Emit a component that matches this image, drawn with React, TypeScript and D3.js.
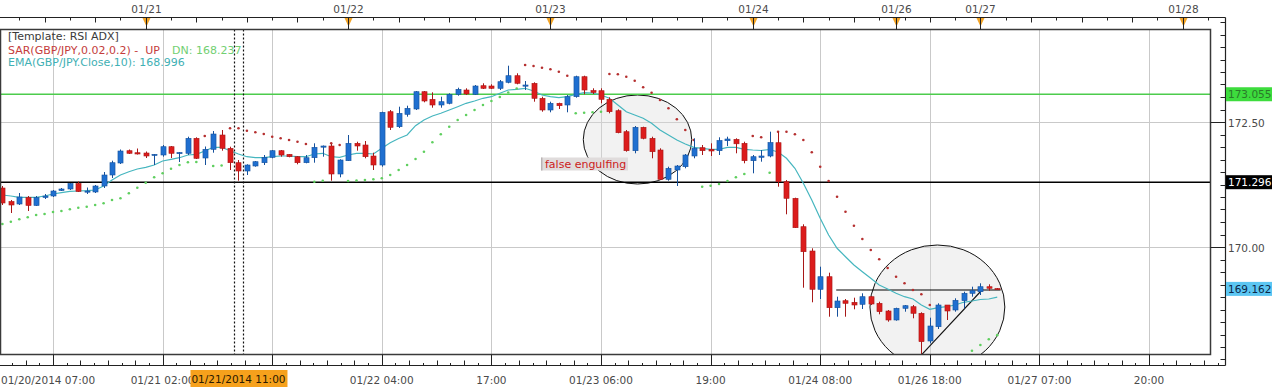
import React from 'react';
import * as d3 from 'd3';

// ---------- data ----------
const open = [171.18,170.91,170.86,170.99,170.83,170.99,171.02,171.13,171.16,171.27,171.10,171.10,171.22,171.44,171.68,171.926,171.886,171.88,171.834,171.84,172.006,171.87,171.874,172.174,171.78,171.954,172.24,171.974,171.686,171.52,171.62,171.686,171.794,171.926,171.854,171.806,171.686,171.786,172.0,172.02,171.46,171.726,172.074,172.04,171.82,171.64,172.706,172.406,172.654,172.76,173.106,172.954,172.84,172.874,173.054,173.14,173.054,173.226,173.22,173.174,173.294,173.426,173.22,173.274,172.974,172.74,172.874,172.84,173.006,173.406,173.13,173.126,172.954,172.726,172.306,171.926,172.394,172.174,171.94,171.354,171.54,171.606,171.82,171.986,171.954,171.926,172.126,172.154,172.074,171.726,171.794,171.82,172.086,171.306,170.974,170.406,169.92,169.154,169.406,168.786,168.926,168.894,168.854,169.006,168.874,168.72,168.54,168.774,168.806,168.674,168.12,168.406,168.84,168.74,168.926,169.074,169.106,169.206,169.17];
const high = [171.22,170.94,171.08,171.02,171.02,171.06,171.14,171.18,171.28,171.31,171.19,171.24,171.50,171.726,171.95,171.95,171.97,171.91,171.86,172.04,172.02,171.90,172.206,172.194,172.01,172.32,172.34,172.006,171.74,171.654,171.72,171.84,171.94,171.94,171.86,171.82,171.84,172.074,172.03,172.06,171.754,172.24,172.106,172.12,171.886,172.706,172.74,172.806,172.826,173.12,173.12,173.094,173.006,173.074,173.186,173.174,173.24,173.274,173.254,173.34,173.626,173.474,173.32,173.294,173.006,172.906,172.886,173.04,173.426,173.426,173.174,173.174,172.994,172.754,172.34,172.42,172.406,172.206,171.974,171.606,171.64,171.86,172.174,172.04,172.074,172.194,172.206,172.174,172.106,171.84,171.94,172.306,172.306,171.34,170.986,170.454,169.974,169.606,169.486,169.006,168.96,168.986,169.074,169.02,168.906,168.74,168.786,168.84,168.84,168.694,168.586,168.874,168.84,168.974,169.106,169.206,169.274,169.254,169.18];
const low = [170.84,170.68,170.84,170.72,170.82,170.96,171.0,171.12,171.14,171.10,171.06,171.08,171.18,171.38,171.66,171.86,171.85,171.78,171.64,171.806,171.78,171.70,171.84,171.76,171.64,171.886,171.926,171.54,171.326,171.44,171.606,171.64,171.774,171.806,171.794,171.654,171.674,171.686,171.806,171.326,171.394,171.72,171.926,171.774,171.54,171.606,172.34,172.38,172.606,172.74,172.894,172.786,172.786,172.854,173.026,173.04,173.04,173.16,173.16,173.14,173.274,173.254,173.14,172.906,172.706,172.694,172.76,172.694,172.986,173.054,173.06,172.874,172.674,172.274,171.906,171.874,172.154,171.774,171.34,171.326,171.22,171.574,171.774,171.84,171.82,171.84,172.02,171.874,171.674,171.474,171.706,171.794,171.206,170.654,170.38,169.186,168.894,168.96,168.606,168.606,168.606,168.754,168.76,168.84,168.654,168.506,168.526,168.706,168.574,167.84,168.074,168.36,168.54,168.706,168.774,169.006,169.04,169.126,169.15];
const close = [170.88,170.84,171.0,170.83,170.99,171.02,171.12,171.16,171.27,171.11,171.12,171.22,171.44,171.686,171.92,171.874,171.86,171.82,171.854,172.006,171.874,171.89,172.174,171.774,171.954,172.26,171.974,171.686,171.52,171.64,171.706,171.794,171.926,171.84,171.806,171.686,171.786,171.994,172.02,171.46,171.74,172.074,172.02,171.806,171.64,172.694,172.394,172.674,172.774,173.106,172.92,172.84,172.906,173.054,173.154,173.06,173.22,173.174,173.174,173.306,173.426,173.274,173.24,172.974,172.74,172.874,172.826,173.006,173.406,173.14,173.09,172.954,172.706,172.286,171.926,172.394,172.174,171.906,171.354,171.574,171.62,171.84,171.974,171.926,171.92,172.13,172.16,172.064,171.726,171.806,171.82,172.09,171.306,170.974,170.386,169.906,169.154,169.406,168.786,168.92,168.874,168.84,169.006,168.86,168.706,168.54,168.774,168.826,168.674,168.106,168.42,168.84,168.72,168.934,169.074,169.126,169.206,169.174,169.162];
const ema = [171.04,171.02,170.994,170.994,170.994,171.02,171.06,171.086,171.114,171.12,171.126,171.14,171.22,171.34,171.44,171.506,171.56,171.594,171.64,171.72,171.754,171.786,171.84,171.854,171.92,171.994,171.994,171.926,171.86,171.806,171.786,171.786,171.806,171.82,171.82,171.806,171.806,171.86,171.874,171.806,171.794,171.84,171.874,171.874,171.86,171.974,172.086,172.17,172.24,172.426,172.54,172.62,172.674,172.74,172.806,172.874,172.92,172.974,173.006,173.074,173.14,173.154,173.174,173.12,173.04,173.006,172.986,173.006,173.054,173.086,173.08,173.04,172.974,172.84,172.706,172.64,172.574,172.474,172.34,172.24,172.14,172.06,171.994,171.974,171.954,171.954,171.994,171.994,171.954,171.94,171.93,171.95,171.90,171.774,171.574,171.274,170.94,170.574,170.24,169.974,169.806,169.64,169.506,169.374,169.24,169.16,169.074,169.006,168.96,168.84,168.754,168.786,168.806,168.84,168.894,168.92,168.95,168.96,168.996];
const sar: (number | null)[] = [170.46,170.506,170.554,170.594,170.64,170.66,170.70,170.72,170.754,170.786,170.806,170.84,170.874,170.94,170.974,171.074,171.186,171.286,171.394,171.474,171.566,171.64,171.694,171.70,172.22,171.62,171.63,172.374,172.374,172.326,172.294,172.26,172.206,172.174,172.14,172.106,172.06,171.306,171.326,172.074,172.04,171.32,171.33,171.34,171.354,171.374,171.44,171.54,171.64,171.76,171.906,172.094,172.254,172.406,172.54,172.64,172.74,172.84,172.92,173.0,173.09,173.17,173.64,173.62,173.586,173.554,173.506,173.426,172.674,172.686,172.694,172.706,173.46,173.454,173.406,173.326,173.194,173.086,172.94,172.774,172.554,172.34,172.14,171.206,171.226,171.26,171.32,171.394,171.46,172.22,172.194,171.486,172.306,172.306,172.254,172.14,171.894,171.606,171.32,171.006,170.706,170.426,170.16,169.94,169.754,169.58,169.406,169.274,169.14,169.054,168.84,null,null,null,null,167.926,168.04,168.154,168.237];

const dayTickBars = [17, 41, 65, 89, 106, 116, 140];
const dayTickLabels = ['01/21', '01/22', '01/23', '01/24', '01/26', '01/27', '01/28'];
const timeTickBars = [6, 19, 32, 45, 58, 71, 84, 97, 110, 123, 136];
const timeTickLabels = ['', '01/21 02:00', '', '01/22 04:00', '17:00', '01/23 06:00', '19:00', '01/24 08:00', '01/26 18:00', '01/27 07:00', '20:00'];
const startLabel = '01/20/2014 07:00';
const cursorBar = 28;
const cursorLabel = '01/21/2014 11:00';
const priceLabels = [170.0, 172.5];
const levelGreen = 173.055;
const levelBlack = 171.296;
const lastPrice = 169.162;
const legendTemplate = '[Template: RSI ADX]';
const legendSar = 'SAR(GBP/JPY,0.02,0.2) -  UP';
const legendSarDn = 'DN: 168.237';
const legendEma = 'EMA(GBP/JPY.Close,10): 168.996';
const noteText = 'false engulfing';
const noteBar = 64;
const notePrice = 171.66;
const ellipseBars = [75.33, 110.9];
const ellipsePrices = [172.15, 168.8];
const ellipseHalfBars = [6.43, 8.0];
const ellipseHalfPrices = [0.89, 1.24];
const hLineBars = [98.9, 118.4];
const hLinePrice = 169.14;
const trendBars = [109, 116.3];
const trendPrices = [167.84, 169.16];

// ---------- layout ----------
const W = 1280, H = 391;
const PL = 0.5, PR = 1210.5, PT = 29.5, PB = 354.5;
const AX = 1225.5, TOPY = 17.5, BOTY = 365.5;
const x = d3.scaleLinear().domain([6, 136]).range([53, 1149]);
const y = d3.scaleLinear().domain([170, 172.5]).range([247, 122]);
const FONT = "'DejaVu Sans', Verdana, sans-serif";

const RED = '#dc1c1c', RED_D = '#a81818';
const BLUE = '#1f6fd0', BLUE_D = '#16519c';

function barHour(i: number) {
  return i < 106 ? (((7 + i) % 24) + 24) % 24 : (14 + i - 106) % 24;
}

export default function App() {
  const n = close.length;
  const idx = d3.range(n);
  const emaLine = d3.line<number>().x((i) => x(i)).y((i) => y(ema[i]))(idx) || '';
  const bw = (x(1) - x(0)) * 0.6;

  const topTicks = d3.range(-1, 147).filter((i) => barHour(i) % 3 === 0 && !dayTickBars.includes(i) && x(i) > 1 && x(i) < AX);
  const minorStep = (x(19) - x(6)) / 8;
  const bottomMinor: { px: number; k: number }[] = [];
  timeTickBars.forEach((b) => {
    for (let k = -7; k <= 7; k++) {
      if (k === 0) continue;
      const px = x(b) + k * minorStep;
      if (k < 0 && b !== timeTickBars[0]) continue;
      if (px > 1 && px < AX - 1) bottomMinor.push({ px, k: Math.abs(k) });
    }
  });
  const priceMinor = d3.range(167.75, 174.51, 0.25).filter((p) => y(p) > TOPY + 1 && y(p) < BOTY - 1);

  const boxes = [
    { p: levelGreen, bg: '#3ddc3d', fg: '#2a7a2a' },
    { p: levelBlack, bg: '#000000', fg: '#ffffff' },
    { p: lastPrice, bg: '#5cc6f2', fg: '#0b2747' },
  ];

  const noteX = x(noteBar) - 1;
  const noteY = y(notePrice);

  return (
    <div style={{ position: 'absolute', left: 0, top: 0, width: W, height: H, background: '#fff' }}>
      <svg width={W} height={H} style={{ display: 'block' }} fontFamily={FONT}>
        <defs>
          <clipPath id="plot">
            <rect x={PL + 0.5} y={PT + 0.5} width={PR - PL - 1} height={PB - PT - 1} />
          </clipPath>
        </defs>
        <rect x={0} y={0} width={W} height={H} fill="#fff" />

        {/* grid */}
        <g stroke="#c9c9c9" strokeWidth={1}>
          {priceLabels.map((p) => (
            <line key={'hg' + p} x1={PL} x2={PR} y1={Math.round(y(p)) + 0.5} y2={Math.round(y(p)) + 0.5} />
          ))}
          {timeTickBars.map((b) => (
            <line key={'vg' + b} x1={Math.round(x(b)) + 0.5} x2={Math.round(x(b)) + 0.5} y1={PT} y2={PB} />
          ))}
        </g>

        <g clipPath="url(#plot)">
          {/* ellipses */}
          {ellipseBars.map((b, k) => (
            <ellipse
              key={'el' + k}
              cx={x(b)}
              cy={y(ellipsePrices[k])}
              rx={x(b + ellipseHalfBars[k]) - x(b)}
              ry={y(ellipsePrices[k] - ellipseHalfPrices[k]) - y(ellipsePrices[k])}
              fill="#d9d9d9"
              fillOpacity={0.35}
              stroke="#111"
              strokeWidth={1}
            />
          ))}

          {/* level lines */}
          <line x1={PL} x2={PR} y1={y(levelGreen)} y2={y(levelGreen)} stroke="#4ccc4c" strokeWidth={1.5} />
          <line x1={PL} x2={PR} y1={y(levelBlack)} y2={y(levelBlack)} stroke="#000" strokeWidth={1.5} />
          <line x1={x(hLineBars[0])} x2={x(hLineBars[1])} y1={y(hLinePrice)} y2={y(hLinePrice)} stroke="#000" strokeWidth={1.2} />
          <line x1={x(trendBars[0])} x2={x(trendBars[1])} y1={y(trendPrices[0])} y2={y(trendPrices[1])} stroke="#111" strokeWidth={1.1} />

          {/* cursor dotted lines */}
          {[cursorBar - 0.5, cursorBar + 0.5].map((b) => (
            <line key={'cur' + b} x1={Math.round(x(b)) + 0.5} x2={Math.round(x(b)) + 0.5} y1={PT} y2={PB} stroke="#111" strokeWidth={1.2} strokeDasharray="2,2" />
          ))}

          {/* EMA */}
          <path d={emaLine} fill="none" stroke="#46b6bf" strokeWidth={1.2} />

          {/* SAR */}
          {idx.map((i) => {
            const s = sar[i];
            if (s === null || s === undefined) return null;
            const up = s < close[i];
            return <circle key={'s' + i} cx={x(i)} cy={y(s)} r={1.3} fill={up ? '#5fcf5f' : '#b52f2f'} />;
          })}

          {/* candles */}
          {idx.map((i) => {
            const up = close[i] >= open[i];
            const top = y(Math.max(open[i], close[i]));
            const bot = y(Math.min(open[i], close[i]));
            const cx = Math.round(x(i)) + 0.5;
            return (
              <g key={'c' + i}>
                <line x1={cx} x2={cx} y1={y(high[i])} y2={y(low[i])} stroke={up ? BLUE_D : RED_D} strokeWidth={1} />
                <rect
                  x={cx - bw / 2}
                  y={top}
                  width={bw}
                  height={Math.max(1.2, bot - top)}
                  fill={up ? BLUE : RED}
                  stroke={up ? BLUE_D : RED_D}
                  strokeWidth={0.6}
                />
              </g>
            );
          })}

          {/* note */}
          <rect x={noteX} y={noteY - 6.5} width={87} height={13} fill="#e0dcdc" />
          <rect x={noteX} y={noteY - 6.5} width={1.5} height={13} fill="#b9b4b4" />
          <text x={noteX + 4} y={noteY + 4} fontSize={11} fill="#cc2020">{noteText}</text>
        </g>

        {/* legend */}
        <text x={8} y={40} fontSize={11} fill="#3a3a3a">{legendTemplate}</text>
        <text x={8} y={53.5} fontSize={11} fill="#c43c3c" style={{ whiteSpace: 'pre' }}>{legendSar}</text>
        <text x={172} y={53.5} fontSize={11} fill="#72cf72">{legendSarDn}</text>
        <text x={8} y={65.5} fontSize={11} fill="#3fb0b4">{legendEma}</text>

        {/* plot frame */}
        <rect x={PL} y={PT} width={PR - PL} height={PB - PT} fill="none" stroke="#3a3a3a" strokeWidth={1.5} />

        {/* outer axis frame */}
        <line x1={0} x2={AX} y1={TOPY} y2={TOPY} stroke="#222" strokeWidth={1} />
        <line x1={AX} x2={AX} y1={TOPY} y2={BOTY} stroke="#222" strokeWidth={1.2} />
        <line x1={0} x2={AX} y1={BOTY} y2={BOTY} stroke="#222" strokeWidth={1} />

        {/* top axis */}
        <g stroke="#222" strokeWidth={1}>
          {topTicks.map((i) => (
            <line key={'tt' + i} x1={Math.round(x(i)) + 0.5} x2={Math.round(x(i)) + 0.5} y1={TOPY} y2={TOPY + (barHour(i) % 6 === 0 ? 5 : 3)} />
          ))}
        </g>
        {dayTickBars.map((b, k) => {
          const px = Math.round(x(b)) + 0.5;
          return (
            <g key={'dt' + b}>
              <path d={`M${px - 4},${TOPY + 0.5} L${px + 4},${TOPY + 0.5} L${px},${TOPY + 9} Z`} fill="#f3a427" />
              <line x1={px} x2={px} y1={TOPY} y2={PT} stroke="#222" strokeWidth={1} />
              <text x={px} y={13} fontSize={10.5} fill="#4a4a4a" textAnchor="middle">{dayTickLabels[k]}</text>
            </g>
          );
        })}

        {/* bottom axis */}
        <g stroke="#222" strokeWidth={1}>
          {bottomMinor.map((t, k) => (
            <line key={'bm' + k} x1={Math.round(t.px) + 0.5} x2={Math.round(t.px) + 0.5} y1={BOTY} y2={BOTY - (t.k % 2 === 0 ? 5 : 2.5)} />
          ))}
          {timeTickBars.map((b) => (
            <line key={'bt' + b} x1={Math.round(x(b)) + 0.5} x2={Math.round(x(b)) + 0.5} y1={PB} y2={BOTY} />
          ))}
        </g>
        {timeTickBars.map((b, k) =>
          timeTickLabels[k] ? (
            <text key={'bl' + b} x={x(b)} y={384} fontSize={10.5} fill="#4a4a4a" textAnchor="middle">{timeTickLabels[k]}</text>
          ) : null
        )}
        <text x={1} y={384} fontSize={10.5} fill="#4a4a4a">{startLabel}</text>
        <rect x={x(cursorBar) - 48} y={370} width={97} height={17} fill="#f6a11c" />
        <text x={x(cursorBar)} y={383} fontSize={10.5} fill="#2a1a00" textAnchor="middle">{cursorLabel}</text>

        {/* right axis */}
        <g stroke="#222" strokeWidth={1}>
          {priceMinor.map((p) => (
            <line key={'pm' + p} x1={AX - 5} x2={AX} y1={Math.round(y(p)) + 0.5} y2={Math.round(y(p)) + 0.5} />
          ))}
          {priceLabels.map((p) => (
            <line key={'pM' + p} x1={PR} x2={AX} y1={Math.round(y(p)) + 0.5} y2={Math.round(y(p)) + 0.5} />
          ))}
        </g>
        {priceLabels.map((p) => (
          <text key={'pl' + p} x={1228} y={y(p) + 4.5} fontSize={10.5} fill="#4a4a4a">{d3.format('.2f')(p)}</text>
        ))}
        {boxes.map((b) => (
          <g key={'bx' + b.p}>
            <rect x={1226} y={y(b.p) - 7} width={46} height={14} fill={b.bg} />
            <text x={1228} y={y(b.p) + 4} fontSize={10.5} fill={b.fg}>{d3.format('.3f')(b.p)}</text>
          </g>
        ))}
      </svg>
    </div>
  );
}
